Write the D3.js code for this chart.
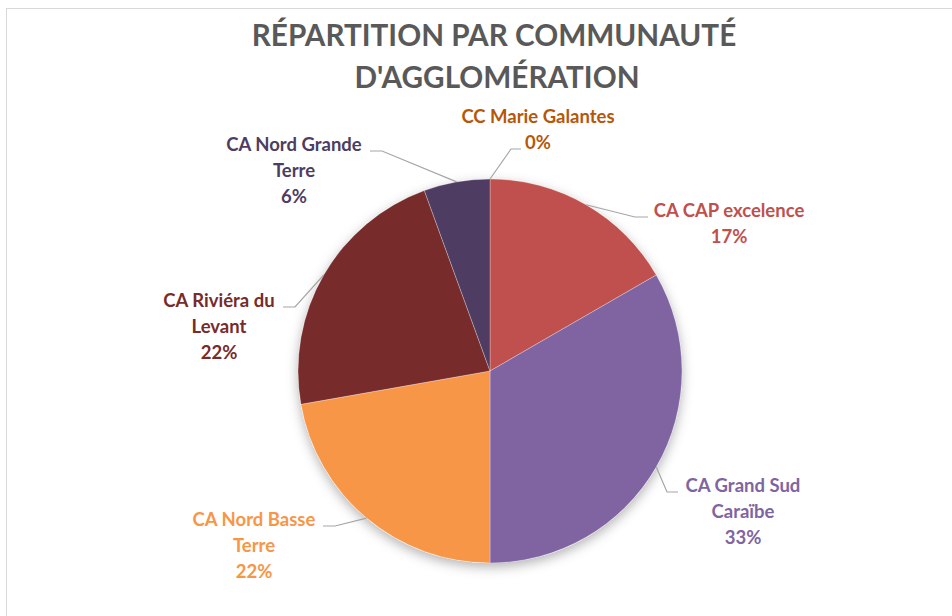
<!DOCTYPE html>
<html>
<head>
<meta charset="utf-8">
<script src="https://cdn.jsdelivr.net/npm/d3@7.9.0/dist/d3.min.js"></script>
<style>
  html, body { margin: 0; padding: 0; background: #fff; }
  svg { display: block; }
  text { font-family: Lato, "Open Sans", sans-serif; font-weight: bold; }
</style>
</head>
<body>
<svg id="chart" width="952" height="616"></svg>
<script>
// Data (clockwise from 12 o'clock)
const categories = ["CC Marie Galantes", "CA CAP excelence", "CA Grand Sud Caraïbe",
                    "CA Nord Basse Terre", "CA Riviéra du Levant", "CA Nord Grande Terre"];
const counts = [0, 3, 6, 4, 4, 1];
const labelLines = [
  ["CC Marie Galantes"],
  ["CA CAP excelence"],
  ["CA Grand Sud", "Caraïbe"],
  ["CA Nord Basse", "Terre"],
  ["CA Riviéra du", "Levant"],
  ["CA Nord Grande", "Terre"]
];
const colors = ["#B65708", "#C0504D", "#8064A2", "#F79646", "#772B2A", "#4E3C62"];

const svg = d3.select("#chart");
const cx = 490, cy = 371, radius = 192;

// chart area border
svg.append("rect")
  .attr("x", 6.5).attr("y", 8.5)
  .attr("width", 980).attr("height", 640)
  .attr("fill", "#fff")
  .attr("stroke", "#d9d9d9");

// title
svg.append("text")
  .attr("x", 494).attr("y", 46)
  .attr("text-anchor", "middle")
  .attr("fill", "#595959")
  .style("font-size", "29.7px")
  .text("RÉPARTITION PAR COMMUNAUTÉ");
svg.append("text")
  .attr("x", 497).attr("y", 88)
  .attr("text-anchor", "middle")
  .attr("fill", "#595959")
  .style("font-size", "29.7px")
  .text("D'AGGLOMÉRATION");

// soft shadow under the pie
const defs = svg.append("defs");
const f = defs.append("filter").attr("id", "shadow")
  .attr("x", "-20%").attr("y", "-20%").attr("width", "140%").attr("height", "140%");
f.append("feDropShadow")
  .attr("dx", 0).attr("dy", 4)
  .attr("stdDeviation", 6)
  .attr("flood-color", "#000")
  .attr("flood-opacity", 0.3);

const total = d3.sum(counts);
const pie = d3.pie().sort(null).value(d => d)(counts);
const arc = d3.arc().innerRadius(0).outerRadius(radius);
const edge = d3.arc().innerRadius(radius).outerRadius(radius);

const g = svg.append("g").attr("transform", `translate(${cx},${cy})`);

g.append("circle").attr("r", radius).attr("fill", "#fff").attr("filter", "url(#shadow)");

g.selectAll("path.slice")
  .data(pie)
  .join("path")
  .attr("class", "slice")
  .attr("d", arc)
  .attr("fill", (d, i) => colors[i])
  .attr("stroke", "#fff")
  .attr("stroke-opacity", 0.35)
  .attr("stroke-width", 0.8);

// label placement: label block centre x, first baseline, leader elbow and end (relative to centre)
const layout = [
  { x: 538, y: 123, elbow: [21, -222], end: [31, -222] },
  { x: 729, y: 217, elbow: [145, -154], end: [158, -154] },
  { x: 743, y: 492, elbow: [177, 121], end: [188, 121] },
  { x: 254, y: 526, elbow: [-155, 155], end: [-167, 155] },
  { x: 219, y: 307, elbow: [-195, -64], end: [-207, -64] },
  { x: 294, y: 151, elbow: [-108, -220], end: [-120, -220] }
];
const lineH = 26;

pie.forEach((d, i) => {
  const L = layout[i];
  const p = edge.centroid(d);
  g.append("polyline")
    .attr("points", [p, L.elbow, L.end].map(q => q.join(",")).join(" "))
    .attr("fill", "none")
    .attr("stroke", "#a6a6a6")
    .attr("stroke-width", 1.2);

  const pct = d3.format(".0%")(d.data / total);
  const lines = labelLines[i].concat([pct]);
  const t = svg.append("text")
    .attr("text-anchor", "middle")
    .attr("fill", colors[i])
    .style("font-size", "18.5px");
  lines.forEach((s, k) => {
    t.append("tspan").attr("x", L.x).attr("y", L.y + k * lineH).text(s);
  });
});
</script>
</body>
</html>
